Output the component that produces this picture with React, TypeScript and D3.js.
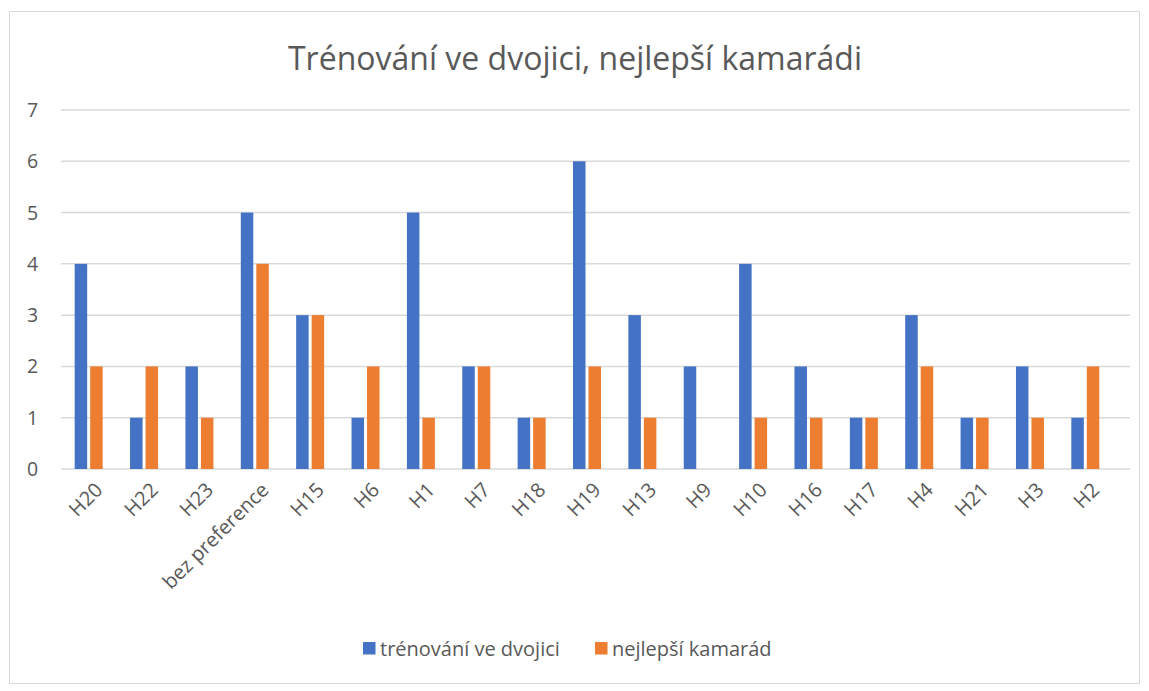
import * as d3 from "d3";

const WIDTH = 1149;
const HEIGHT = 691;
const PLOT = { left: 61, right: 1113, gridRight: 1130, top: 110, bottom: 469 };

const TITLE = "Trénování ve dvojici, nejlepší kamarádi";
const categories = [
  "H20", "H22", "H23", "bez preference", "H15", "H6", "H1", "H7", "H18", "H19",
  "H13", "H9", "H10", "H16", "H17", "H4", "H21", "H3", "H2"
];
const trainingPairs = [4, 1, 2, 5, 3, 1, 5, 2, 1, 6, 3, 2, 4, 2, 1, 3, 1, 2, 1];
const bestFriend = [2, 2, 1, 4, 3, 2, 1, 2, 1, 2, 1, 0, 1, 1, 1, 2, 1, 1, 2];
const seriesNames = ["trénování ve dvojici", "nejlepší kamarád"];
const seriesColors = ["#4472C4", "#ED7D31"];
const yTicks = [0, 1, 2, 3, 4, 5, 6, 7];

const FONT = "'Open Sans', sans-serif";
const TEXT = "#595959";

export default function App() {
  const x = d3.scaleBand<string>().domain(categories).range([PLOT.left, PLOT.right]);
  const y = d3.scaleLinear().domain([0, 7]).range([PLOT.bottom, PLOT.top]);
  const barW = 12.5;
  const gap = 3;

  const series = [trainingPairs, bestFriend];

  return (
    <div style={{ position: "absolute", left: 0, top: 0 }}>
      <svg width={WIDTH} height={HEIGHT} style={{ display: "block", fontFamily: FONT }}>
        <rect x={0} y={0} width={WIDTH} height={HEIGHT} fill="#fff" />
        <rect x={9.5} y={11.5} width={1130} height={672} fill="#fff" stroke="#d9d9d9" />

        <text x={575} y={70} textAnchor="middle" fontSize={32} fill={TEXT}>
          {TITLE}
        </text>

        {yTicks.map((t) => (
          <g key={t}>
            <line x1={PLOT.left} x2={PLOT.gridRight} y1={y(t)} y2={y(t)} stroke="#d9d9d9" strokeWidth={1.5} />
            <text x={32.5} y={y(t)} dy="0.36em" textAnchor="middle" fontSize={19.5} fill={TEXT}>
              {t}
            </text>
          </g>
        ))}

        {series.map((values, si) =>
          values.map((v, i) => {
            const cx = (x(categories[i]) ?? 0) + x.bandwidth() / 2;
            const bx = si === 0 ? cx - gap / 2 - barW : cx + gap / 2;
            return (
              <rect
                key={`${si}-${i}`}
                x={bx}
                y={y(v)}
                width={barW}
                height={y(0) - y(v)}
                fill={seriesColors[si]}
              />
            );
          })
        )}

        {categories.map((c) => {
          const cx = (x(c) ?? 0) + x.bandwidth() / 2;
          return (
            <text
              key={c}
              transform={`translate(${cx + 5},${PLOT.bottom + 12}) rotate(-45)`}
              textAnchor="end"
              dy="0.72em"
              fontSize={20}
              fill={TEXT}
            >
              {c}
            </text>
          );
        })}

        {seriesNames.map((name, i) => {
          const lx = i === 0 ? 363 : 595;
          return (
            <g key={name}>
              <rect x={lx} y={642} width={12.5} height={12.5} fill={seriesColors[i]} />
              <text x={lx + 17} y={648.5} dy="0.35em" fontSize={20} fill={TEXT}>
                {name}
              </text>
            </g>
          );
        })}
      </svg>
    </div>
  );
}
